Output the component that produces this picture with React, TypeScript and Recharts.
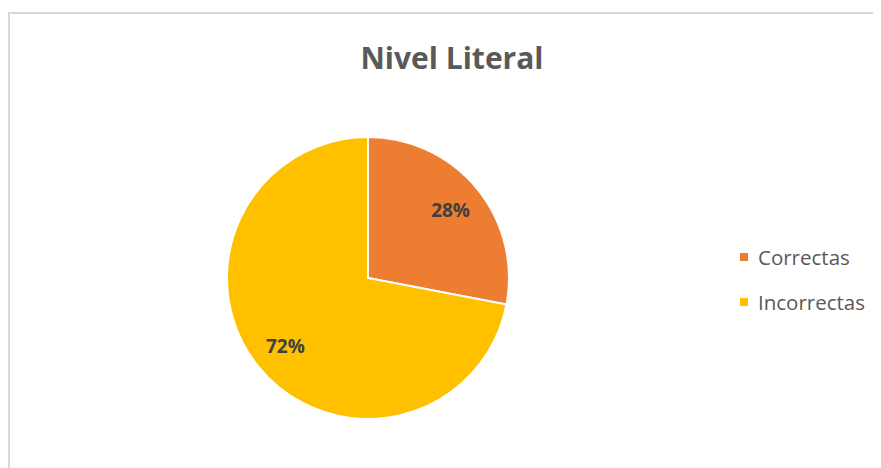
import React from "react";
import { PieChart, Pie, Cell, Legend } from "recharts";

const categories = ["Correctas", "Incorrectas"];
const values = [28, 72];
const colors = ["#ED7D31", "#FFC000"];
const title = "Nivel Literal";

const data = categories.map((name, i) => ({ name, value: values[i] }));
const total = values.reduce((a, b) => a + b, 0);

const RAD = Math.PI / 180;
const renderLabel = (props: any) => {
  const { cx, cy, midAngle, outerRadius, value } = props;
  const r = outerRadius * 0.76;
  const x = cx + r * Math.cos(-midAngle * RAD);
  const y = cy + r * Math.sin(-midAngle * RAD);
  return (
    <text x={x} y={y} textAnchor="middle" dominantBaseline="central" fill="#404040"
      fontFamily="'Open Sans', sans-serif" fontWeight="bold" fontSize={19}>
      {`${Math.round((value / total) * 100)}%`}
    </text>
  );
};

const renderLegend = (props: any) => {
  const { payload } = props;
  return (
    <div style={{ fontFamily: "'Open Sans', sans-serif", fontSize: 20.5, color: "#595959" }}>
      {payload.map((p: any, i: number) => (
        <div key={i} style={{ display: "flex", alignItems: "center", height: 45 }}>
          <span style={{ display: "inline-block", width: 8, height: 8, background: p.color, marginRight: 10 }} />
          <span>{p.value}</span>
        </div>
      ))}
    </div>
  );
};

export default function App() {
  return (
    <div style={{ position: "relative", width: 873, height: 460 }}>
      <PieChart width={873} height={460} margin={{ top: 0, right: 0, bottom: 0, left: 0 }}>
        <rect x={1} y={5} width={2000} height={2000} fill="#fff" stroke="#D9D9D9" strokeWidth={2} />
        <text x={444} y={49} textAnchor="middle" dominantBaseline="central" fill="#595959"
          fontFamily="'Open Sans', sans-serif" fontWeight="bold" fontSize={30}>
          {title}
        </text>
        <Pie
          data={data}
          dataKey="value"
          nameKey="name"
          cx={360}
          cy={270}
          outerRadius={141}
          startAngle={90}
          endAngle={-270}
          stroke="#ffffff"
          strokeWidth={2}
          label={renderLabel}
          labelLine={false}
          isAnimationActive={false}
        >
          {data.map((d, i) => (
            <Cell key={d.name} fill={colors[i]} />
          ))}
        </Pie>
        <Legend
          layout="vertical"
          content={renderLegend}
          wrapperStyle={{ left: 732, top: 226, width: 140 }}
        />
      </PieChart>
    </div>
  );
}
